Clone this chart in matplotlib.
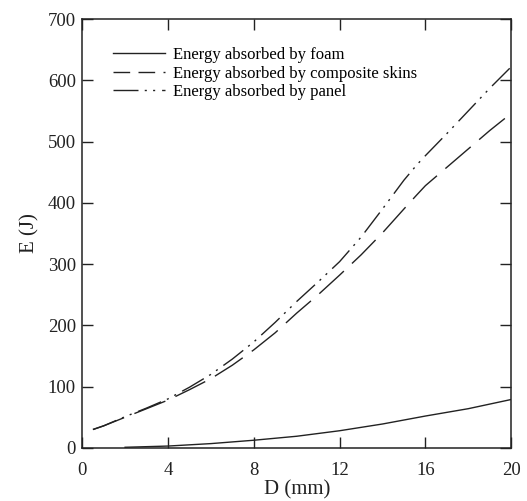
import numpy as np
import matplotlib.pyplot as plt

plt.rcParams['font.family'] = ['Liberation Serif', 'DejaVu Serif']

# Values (D in mm, E in J)
d_skin = [0.5, 1, 2, 3, 4, 5, 6, 7, 8, 9, 10, 11, 12, 13, 14, 15, 15.6, 16, 17, 18, 19, 20]
e_skin = [30, 36, 50, 64, 78, 95, 113, 135, 160, 188, 220, 250, 282, 315, 351, 390, 413, 428, 458, 488, 518, 546]

d_panel = [0.5, 1, 2, 3, 4, 5, 6, 7, 8, 9, 10, 11, 12, 13, 14, 15, 15.6, 16, 17, 18, 19, 20]
e_panel = [30, 36, 51, 65, 80, 99, 120, 145, 173, 205, 239, 271, 304, 344, 390, 437, 462, 477, 513, 550, 587, 622]

d_foam = [2, 4, 6, 8, 10, 12, 14, 16, 18, 20]
e_foam = [1, 3, 7, 12.5, 19, 28, 39, 52, 64, 79]

fig = plt.figure(figsize=(5.27, 5.01), dpi=100)
ax = fig.add_axes([0.156, 0.106, 0.814, 0.856])

ink = '#222222'
ax.plot(d_foam, e_foam, color=ink, lw=1.0, label='Energy absorbed by foam')
ax.plot(d_skin, e_skin, color=ink, lw=1.0, dashes=(24, 8),
        label='Energy absorbed by composite skins')
ax.plot(d_panel, e_panel, color=ink, lw=1.0, dashes=(18, 4.5, 1.5, 4.5, 1.5, 5),
        label='Energy absorbed by panel')

ax.set_xlim(0, 20)
ax.set_ylim(0, 700)
ax.set_xticks([0, 4, 8, 12, 16, 20])
ax.set_yticks(range(0, 701, 100))
ax.tick_params(direction='in', length=8, width=1, top=True, right=True,
               labelsize=13.5, colors=ink)
ax.tick_params(axis='x', pad=10)
ax.tick_params(axis='y', pad=4.5)
for s in ax.spines.values():
    s.set_linewidth(1.1)
    s.set_color(ink)

ax.set_xlabel('D (mm)', fontsize=15, color=ink, labelpad=1)
ax.set_ylabel('E (J)', fontsize=15, color=ink, labelpad=6)

leg = ax.legend(loc='upper left', bbox_to_anchor=(0.057, 0.95), frameon=False,
                fontsize=12, handlelength=3.1, handletextpad=0.5, labelspacing=0.15,
                borderaxespad=0)
for h in leg.get_lines()[1:2]:
    h.set_dashes((12, 6))

fig.savefig('out.png', dpi=100)
